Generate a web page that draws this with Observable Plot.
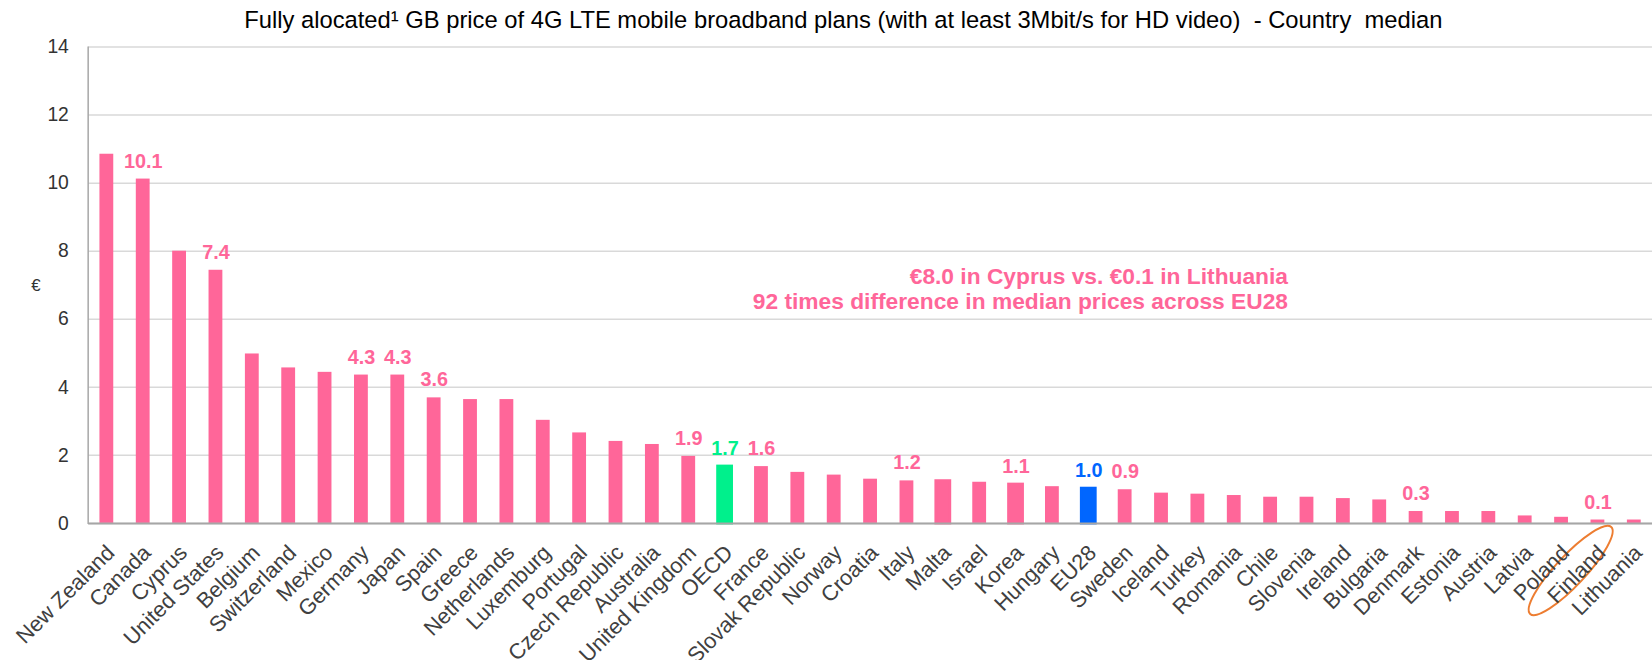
<!DOCTYPE html>
<html><head><meta charset="utf-8">
<script src="https://cdn.jsdelivr.net/npm/d3@7"></script>
<script src="https://cdn.jsdelivr.net/npm/@observablehq/plot@0.6"></script>
<style>
html,body{margin:0;padding:0;background:#fff;overflow:hidden;width:1652px;height:660px;}
#chart{position:relative;width:1652px;height:660px;overflow:hidden;}
</style></head><body><div id="chart"></div>
<script>
const countries = ["New Zealand","Canada","Cyprus","United States","Belgium","Switzerland","Mexico","Germany","Japan","Spain","Greece","Netherlands","Luxemburg","Portugal","Czech Republic","Australia","United Kingdom","OECD","France","Slovak Republic","Norway","Croatia","Italy","Malta","Israel","Korea","Hungary","EU28","Sweden","Iceland","Turkey","Romania","Chile","Slovenia","Ireland","Bulgaria","Denmark","Estonia","Austria","Latvia","Poland","Finland","Lithuania"];
const prices = [10.85,10.12,8.0,7.44,4.98,4.57,4.44,4.36,4.36,3.69,3.64,3.64,3.03,2.66,2.41,2.32,1.97,1.67,1.67,1.50,1.42,1.30,1.25,1.24,1.21,1.14,1.08,1.02,0.99,0.89,0.86,0.82,0.77,0.77,0.73,0.69,0.35,0.35,0.35,0.22,0.18,0.10,0.10];
const valueLabels = ["","10.1","","7.4","","","","4.3","4.3","3.6","","","","","","","1.9","1.7","1.6","","","","1.2","","","1.1","","1.0","0.9","","","","","","","","0.3","","","","","0.1",""];
const outlined = ["OECD","Malta","Korea","EU28"];
const yTicks = [0,2,4,6,8,10,12,14];
const titleText = "Fully alocated\u00b9 GB price of 4G LTE mobile broadband plans (with at least 3Mbit/s for HD video)  - Country  median";
const noteText = "\u20ac8.0 in Cyprus vs. \u20ac0.1 in Lithuania\n92 times difference in median prices across EU28";
const circled = "Finland";

const PINK = "#ff6699", GREEN = "#00f08c", BLUE = "#0066ff";
const colorOf = c => c === "OECD" ? GREEN : c === "EU28" ? BLUE : PINK;

const data = countries.map((c, i) => ({country: c, price: prices[i], label: valueLabels[i], color: colorOf(c), outlined: outlined.includes(c)}));

const W = 1668, H = 660;
const chart = Plot.plot({
  width: W, height: H,
  marginLeft: 89, marginRight: 0, marginTop: 47, marginBottom: 132,
  style: {fontFamily: "'Liberation Sans', Arial, sans-serif", background: "#fff", overflow: "visible"},
  x: {domain: countries, paddingInner: 0.62, paddingOuter: 0.31, label: null},
  y: {domain: [0, 14], label: null},
  marks: [
    Plot.gridY(yTicks, {stroke: "#d9d9d9", strokeOpacity: 1, strokeWidth: 1.5}),
    Plot.barY(data, {x: "country", y: "price", fill: "color"}),
    Plot.barY(data.filter(d => d.outlined), {x: "country", y: "price", fill: "color", stroke: "color", strokeWidth: 3}),
    Plot.ruleY([0], {stroke: "#a6a6a6", strokeWidth: 2}),
    (index, scales, values, dims) => {
      const g = d3.create("svg:g");
      g.append("line").attr("x1", dims.marginLeft).attr("x2", dims.marginLeft)
        .attr("y1", dims.marginTop).attr("y2", dims.height - dims.marginBottom + 1)
        .attr("stroke", "#a6a6a6").attr("stroke-width", 1.5);
      const cx = scales.x(circled) + scales.x.bandwidth() / 2 - 27;
      const cy = dims.height - dims.marginBottom + 48;
      g.append("ellipse").attr("cx", cx).attr("cy", cy).attr("rx", 60).attr("ry", 15)
        .attr("transform", `rotate(-47 ${cx} ${cy})`)
        .attr("fill", "none").attr("stroke", "#ed7d31").attr("stroke-width", 2);
      return g.node();
    },
    Plot.text(data.filter(d => d.label), {x: "country", y: "price", text: "label", fill: "color", dy: -18, fontSize: 20, fontWeight: "bold"}),
    Plot.axisY(yTicks, {tickSize: 0, tickPadding: 20, fontSize: 19.5, fill: "#333", label: null}),
    Plot.axisX({tickRotate: -45, tickSize: 0, tickPadding: 26, dx: 4, fontSize: 22, fill: "#404040", label: null}),
    Plot.text(["\u20ac"], {frameAnchor: "left", dx: -58, fontSize: 17, fill: "#333"}),
    Plot.text([noteText], {frameAnchor: "left", y: 6.9, dx: 1211, textAnchor: "end", fontSize: 23, fontWeight: "bold", fill: PINK, lineHeight: 1.1}),
    Plot.text([titleText], {frameAnchor: "top-left", dx: 762, dy: -36, textAnchor: "middle", fontSize: 24, fill: "#000"})
  ]
});
document.getElementById("chart").append(chart);
</script>
</body></html>
